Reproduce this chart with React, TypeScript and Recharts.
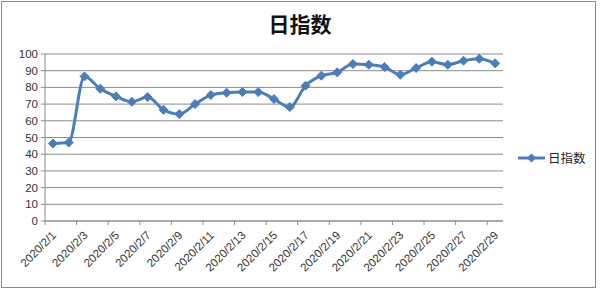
import React from 'react';
import { LineChart, Line, XAxis, YAxis, CartesianGrid } from 'recharts';

// Daily index, February 2020
const dates = [
  '2020/2/1', '2020/2/2', '2020/2/3', '2020/2/4', '2020/2/5', '2020/2/6', '2020/2/7',
  '2020/2/8', '2020/2/9', '2020/2/10', '2020/2/11', '2020/2/12', '2020/2/13', '2020/2/14',
  '2020/2/15', '2020/2/16', '2020/2/17', '2020/2/18', '2020/2/19', '2020/2/20', '2020/2/21',
  '2020/2/22', '2020/2/23', '2020/2/24', '2020/2/25', '2020/2/26', '2020/2/27', '2020/2/28',
  '2020/2/29',
];
const dayIndex = [
  46.4, 47, 86.6, 79.2, 74.6, 71.4, 74.2, 66.6, 64, 70, 75.4, 76.8, 77.2, 77.2, 73,
  68.2, 81, 87, 89, 94, 93.6, 92.2, 87.6, 91.6, 95.4, 93.6, 96, 97.2, 94.4,
];
const yTicks = [0, 10, 20, 30, 40, 50, 60, 70, 80, 90, 100];

const seriesName = '日指数';
const title = '日指数';

const data = dates.map((d, i) => ({ date: d, value: dayIndex[i] }));

const BLUE = '#4A7EBB';
const GRID = '#8C8C8C';
const TEXT = '#333333';
const FONT = '"Liberation Sans", Arial, sans-serif';
const CJK = '"Noto Sans CJK SC", sans-serif';

const Diamond = (props: any) => {
  const { cx, cy, index } = props;
  if (cx == null || cy == null) return null;
  const r = 4.5;
  return (
    <polygon
      key={`d-${index}`}
      points={`${cx},${cy - r} ${cx + r},${cy} ${cx},${cy + r} ${cx - r},${cy}`}
      fill={BLUE}
      stroke={BLUE}
      strokeWidth={1}
    />
  );
};

// Date label at the category centre, tick mark on the category's left boundary
const DateTick = (props: any) => {
  const { x, y, payload } = props;
  const half = payload && payload.offset ? payload.offset : 0;
  const left = x - half;
  const ax = x + 4;
  const ay = y + 15;
  return (
    <g>
      <line x1={left} x2={left} y1={y} y2={y + 4} stroke={GRID} strokeWidth={1} />
      <text
        x={ax}
        y={ay}
        transform={`rotate(-45, ${ax}, ${ay})`}
        textAnchor="end"
        fontSize={11.5}
        fontFamily={FONT}
        fill={TEXT}
      >
        {payload.value}
      </text>
    </g>
  );
};

export default function App() {
  return (
    <div style={{ position: 'absolute', left: 0, top: 0, width: 600, height: 290, background: '#fff' }}>
      <div
        style={{
          position: 'absolute',
          left: 1,
          top: 1,
          width: 595,
          height: 287,
          boxSizing: 'border-box',
          border: '1px solid #8a8a8a',
        }}
      />
      <div
        style={{
          position: 'absolute',
          left: 0,
          top: 8,
          width: 600,
          textAlign: 'center',
          fontFamily: CJK,
          fontSize: 21,
          fontWeight: 700,
          color: '#111',
          lineHeight: '30px',
        }}
      >
        {title}
      </div>
      <div style={{ position: 'absolute', left: 0, top: 0 }}>
        <LineChart
          width={600}
          height={290}
          data={data}
          margin={{ top: 54, right: 97, bottom: 9, left: 0 }}
        >
          <CartesianGrid vertical={false} stroke={GRID} strokeWidth={1} />
          <XAxis
            dataKey="date"
            scale="band"
            interval={1}
            height={60}
            tickLine={false}
            tickSize={0}
            tickMargin={0}
            axisLine={{ stroke: GRID }}
            tick={<DateTick />}
          />
          <YAxis
            domain={[0, 100]}
            ticks={yTicks}
            interval={0}
            width={45}
            tickSize={4}
            tickMargin={3}
            axisLine={{ stroke: GRID }}
            tickLine={{ stroke: GRID }}
            tick={{ fontSize: 11.5, fontFamily: FONT, fill: TEXT }}
          />
          <Line
            type="monotone"
            dataKey="value"
            name={seriesName}
            stroke={BLUE}
            strokeWidth={3}
            dot={Diamond}
            activeDot={false}
            isAnimationActive={false}
          />
        </LineChart>
      </div>
      <svg style={{ position: 'absolute', left: 516, top: 148 }} width={80} height={20}>
        <line x1={2} x2={29} y1={10} y2={10} stroke={BLUE} strokeWidth={3} />
        <polygon points="15.5,5.5 20,10 15.5,14.5 11,10" fill={BLUE} />
        <text x={32} y={14.5} fontSize={12.5} fontFamily={CJK} fill="#222">
          {seriesName}
        </text>
      </svg>
    </div>
  );
}
